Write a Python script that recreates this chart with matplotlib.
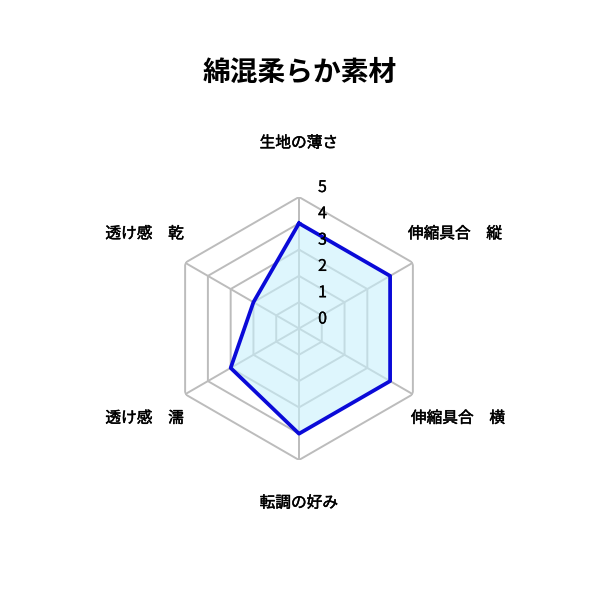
import numpy as np
import matplotlib
matplotlib.use("Agg")
import matplotlib.pyplot as plt
import matplotlib.patheffects as pe

plt.rcParams['font.family'] = ['Noto Sans CJK JP', 'DejaVu Sans']

title = "綿混柔らか素材"
categories = ["生地の薄さ", "伸縮具合　縦", "伸縮具合　横", "転調の好み", "透け感　濡", "透け感　乾"]
values = [4, 4, 4, 4, 3, 2]
ticks = [0, 1, 2, 3, 4, 5]

fig = plt.figure(figsize=(6, 6), dpi=100)
cx, cy, rad = 299 / 600, 1 - 328.5 / 600, 131.5 / 600
ax = fig.add_axes([cx - rad, cy - rad, 2 * rad, 2 * rad], projection='polar')
ax.set_theta_offset(np.pi / 2)
ax.set_theta_direction(-1)
ax.set_ylim(0, max(ticks))
ax.grid(False)
ax.spines['polar'].set_visible(False)
ax.set_xticks([])
ax.set_yticks([])
ax.patch.set_alpha(0)

n = len(categories)
angles = np.arange(n) * 2 * np.pi / n
closed = np.append(angles, angles[0])

grid_c = '#bcbcbc'
for t in ticks[1:]:
    ax.plot(closed, [t] * (n + 1), color=grid_c, lw=1.4, zorder=1)
for a in angles:
    ax.plot([a, a], [0, ticks[-1]], color=grid_c, lw=1.4, zorder=1)

vals = np.append(values, values[0])
ax.fill(closed, vals, color='#c8f1fc', alpha=0.6, zorder=2, lw=0)
ax.plot(closed, vals, color='#0a0ad8', lw=2.7, zorder=3)

thick = [pe.withStroke(linewidth=0.35, foreground='black')]
thin = [pe.withStroke(linewidth=0.2, foreground='black')]
offsets = [(0, 54, 'center'), (-5, 29, 'left'), (-2, -24, 'left'),
           (0, -43, 'center'), (-1, -24, 'right'), (-1, 29, 'right')]
for a, lab, (dx, dy, ha) in zip(angles, categories, offsets):
    ax.annotate(lab, xy=(a, ticks[-1]), xytext=(dx, dy), textcoords='offset pixels',
                ha=ha, va='center', fontsize=11.3, annotation_clip=False, path_effects=thick)

for t in ticks:
    ax.annotate(str(t), xy=(0, t), xytext=(23.5, 9.5), textcoords='offset pixels',
                ha='center', va='center', fontsize=11.5,
                annotation_clip=False, zorder=5, path_effects=thin)

fig.text(0.5, 1 - 73 / 600, title, ha='center', va='center', fontsize=20, fontweight='bold')

fig.savefig('out.png', dpi=100, facecolor='white')
